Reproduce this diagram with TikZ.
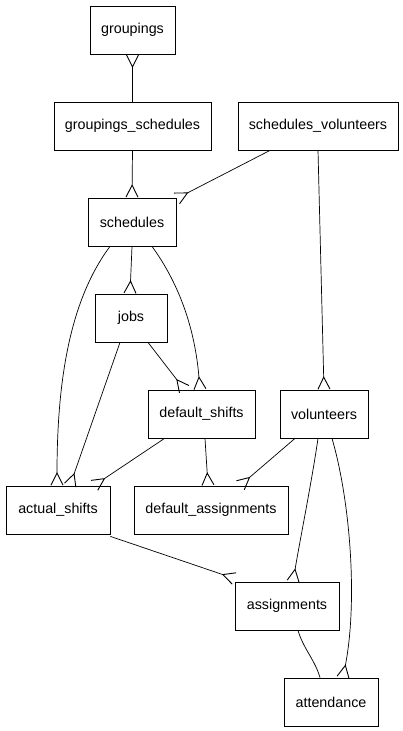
\documentclass[tikz,border=0pt]{standalone}
\usepackage{fontspec}
\setmainfont{Liberation Sans}
\usetikzlibrary{arrows.meta}

\begin{document}
\begin{tikzpicture}[x=1pt, y=-1pt,
  tbl/.style   ={rectangle, draw=black, line width=0.8pt, inner sep=0pt, minimum height=48pt, font=\fontsize{14.3}{16}\selectfont},
  rel/.style   ={line width=0.7pt, draw=black},
  crowft/.style={rel, -{Straight Barb[reversed, length=12pt, width=12pt, line width=0.9pt]}},
]
\useasboundingbox (0,0) rectangle (403,731);
% tables, placed at their centres (pixel grid of the reference, y downwards)
\node[tbl, minimum width=85pt]  (grp)     at (132.5,30)  {groupings};
\node[tbl, minimum width=157pt] (grpsch)  at (132.5,126) {groupings\_schedules};
\node[tbl, minimum width=160pt] (schvol)  at (318,126)   {schedules\_volunteers};
\node[tbl, minimum width=88pt]  (sch)     at (132,222)   {schedules};
\node[tbl, minimum width=72pt]  (jobs)    at (131,318)   {jobs};
\node[tbl, minimum width=107pt] (dshift)  at (201.5,414) {default\_shifts};
\node[tbl, minimum width=88pt]  (vol)     at (324,414)   {volunteers};
\node[tbl, minimum width=104pt] (ashift)  at (58,510)    {actual\_shifts};
\node[tbl, minimum width=154pt] (dassign) at (211,510)   {default\_assignments};
\node[tbl, minimum width=104pt] (assign)  at (287,606)   {assignments};
\node[tbl, minimum width=94pt]  (attend)  at (331,702)   {attendance};
% relations, crow's foot on the "many" side
\draw[crowft] (grpsch.north) -- (grp.south);
\draw[crowft] (grpsch.south) -- (sch.north);
\draw[crowft] ([xshift=-48pt]schvol.south) -- ([yshift=-1pt]sch.north east);
\draw[crowft] (sch.south) -- ([xshift=-1pt]jobs.north);
\draw[crowft] ([xshift=20pt]sch.south) .. controls (180,285) and (195,330) .. ([xshift=-1.5pt]dshift.north);
\draw[crowft] ([xshift=-22pt]sch.south) .. controls (70,300) and (57,380) .. ([xshift=-1pt]ashift.north);
\draw[crowft] ([xshift=-11pt]jobs.south) -- ([xshift=12pt]ashift.north);
\draw[crowft] ([xshift=17pt]jobs.south) -- ([xshift=-17pt]dshift.north);
\draw[crowft] ([xshift=-37pt]dshift.south) -- ([xshift=36pt]ashift.north);
\draw[crowft] ([xshift=3.5pt]dshift.south) -- ([xshift=-3pt]dassign.north);
\draw[crowft] ([xshift=-29pt]vol.south) -- ([xshift=29pt]dassign.north);
\draw[crowft] (schvol.south) -- (vol.north);
\draw[crowft] ([xshift=-6pt]vol.south) .. controls (312,480) and (300,540) .. ([xshift=6pt]assign.north);
\draw[crowft] ([xshift=8pt]vol.south) .. controls (350,500) and (358,600) .. ([xshift=12pt]attend.north);
\draw[crowft] ([yshift=-2pt]ashift.south east) -- ([yshift=3pt]assign.north west);
% one-to-one
\draw[rel] ([xshift=11pt]assign.south) .. controls (303,648) and (315,660) .. ([xshift=-11pt]attend.north);
\end{tikzpicture}
\end{document}
